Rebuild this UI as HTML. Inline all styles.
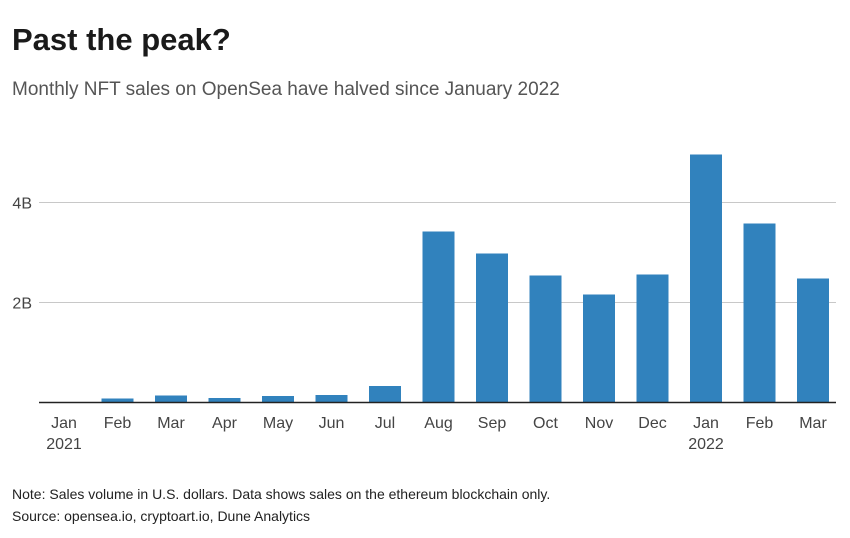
<!DOCTYPE html>
<html><head><meta charset="utf-8"><style>
body{margin:0;width:850px;height:538px;background:#fff;font-family:"Liberation Sans",sans-serif;overflow:hidden;position:relative}
#title{position:absolute;left:12px;top:22px;font-size:31px;font-weight:bold;color:#1a1a1a;margin:0}
#sub{position:absolute;left:12px;top:79px;font-size:19px;color:#555}
#note{position:absolute;left:12px;top:483px;font-size:14px;color:#222;line-height:22px}
svg{position:absolute;left:0;top:0}
</style></head><body>
<h1 id="title">Past the peak?</h1>
<div id="sub">Monthly NFT sales on OpenSea have halved since January 2022</div>
<svg id="chart" width="850" height="538"></svg>
<div id="note">Note: Sales volume in U.S. dollars. Data shows sales on the ethereum blockchain only.<br>Source: opensea.io, cryptoart.io, Dune Analytics</div>
<script>
const categories=["Jan","Feb","Mar","Apr","May","Jun","Jul","Aug","Sep","Oct","Nov","Dec","Jan","Feb","Mar"];
const yearLabels=["2021","","","","","","","","","","","","2022","",""];
const values=[0.01,0.08,0.14,0.09,0.13,0.15,0.33,3.42,2.98,2.54,2.16,2.56,4.96,3.58,2.48];
const tickValues=[2,4];
const tickLabels=["2B","4B"];
const svg=document.getElementById('chart');
const NS='http://www.w3.org/2000/svg';
const x0=39,x1=836,yBase=402.5,pxPerB=50,step=53.5,bw=32,firstCenter=64;
const y=v=>yBase-v*pxPerB;
const xc=i=>firstCenter+i*step;
function mk(t,a){const e=document.createElementNS(NS,t);for(const k in a)e.setAttribute(k,a[k]);svg.appendChild(e);return e;}
tickValues.forEach((v,i)=>{
 const l=mk('line',{x1:x0,x2:x1,y1:y(v),y2:y(v),stroke:'#c8c8c8','stroke-width':1});
 
 
 const t=mk('text',{x:32,y:y(v)+6,'text-anchor':'end','font-size':16,fill:'#444','font-family':'Liberation Sans, sans-serif'});
 t.textContent=tickLabels[i];
 
 
});
values.forEach((v,i)=>{
 const r=mk('rect',{x:xc(i)-bw/2,y:y(v),width:bw,height:v*pxPerB,fill:'#3182bd'});
 
 
 const t=mk('text',{x:xc(i),y:428,'text-anchor':'middle','font-size':16,fill:'#444','font-family':'Liberation Sans, sans-serif'});
 t.textContent=categories[i];
 
 
 if(yearLabels[i]){
  const t2=mk('text',{x:xc(i),y:449,'text-anchor':'middle','font-size':16,fill:'#444','font-family':'Liberation Sans, sans-serif'});
  t2.textContent=yearLabels[i];
  
  
 }
});
const ax=mk('line',{x1:x0,x2:x1,y1:yBase,y2:yBase,stroke:'#222','stroke-width':1.5});


</script>
</body></html>
